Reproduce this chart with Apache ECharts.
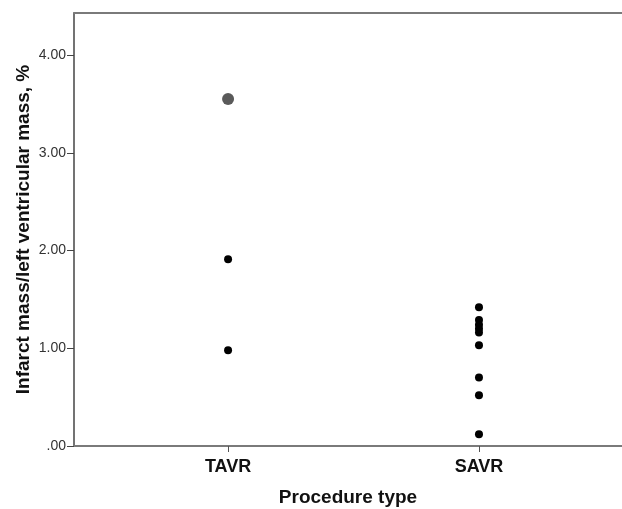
<!DOCTYPE html>
<html>
<head>
<meta charset="utf-8">
<script src="https://cdn.jsdelivr.net/npm/echarts@6/dist/echarts.min.js"></script>
<style>
html, body { margin: 0; padding: 0; background: #fff; }
#main { width: 622px; height: 509px; }
</style>
</head>
<body>
<div id="main"></div>
<script>
var categories = ['TAVR', 'SAVR'];
var yTicks = [0, 1, 2, 3, 4];
// infarct mass / LV mass (%) per patient
var tavrValues = [1.91, 0.98];
var tavrStacked = [3.55];   // drawn larger / grey (overlapping cases)
var savrValues = [1.42, 1.29, 1.24, 1.20, 1.16, 1.03, 0.70, 0.52, 0.12];

function toPoints(catIndex, vals) {
    return vals.map(function (v) { return [catIndex + 1, v]; });
}

var myChart = echarts.init(document.getElementById('main'));

var font = 'Liberation Sans, Arial, sans-serif';

var option = {
    animation: false,
    grid: { left: 74, right: 0, top: 13, bottom: 63, outerBoundsMode: 'none', containLabel: false },
    xAxis: [{
        type: 'value',
        min: 0.386,
        max: 2.57,
        name: 'Procedure type',
        nameLocation: 'middle',
        nameGap: 42,
        nameTextStyle: { fontFamily: font, fontSize: 19, fontWeight: 'bold', color: '#111' },
        splitLine: { show: false },
        axisLine: { lineStyle: { color: '#7a7a7a', width: 2 } },
        axisTick: { show: true, length: 6, customValues: [1, 2], lineStyle: { color: '#555' } },
        axisLabel: {
            customValues: [1, 2],
            margin: 12,
            fontFamily: font, fontSize: 18, fontWeight: 'bold', color: '#111',
            formatter: function (v) { return categories[Math.round(v) - 1] || ''; }
        }
    }, {
        type: 'value',
        position: 'top',
        min: 0.386,
        max: 2.57,
        splitLine: { show: false },
        axisLine: { show: true, lineStyle: { color: '#7a7a7a', width: 2 } },
        axisTick: { show: false },
        axisLabel: { show: false }
    }],
    yAxis: {
        type: 'value',
        min: 0,
        max: 4.43,
        interval: 1,
        name: 'Infarct mass/left ventricular mass, %',
        nameLocation: 'middle',
        nameGap: 41,
        nameMoveOverlap: false,
        nameTextStyle: { fontFamily: font, fontSize: 19, fontWeight: 'bold', color: '#111' },
        splitLine: { show: false },
        axisLine: { show: true, lineStyle: { color: '#444', width: 1.5 } },
        axisTick: { show: true, length: 7, lineStyle: { color: '#444' } },
        axisLabel: {
            showMaxLabel: false,
            margin: 8,
            fontFamily: font, fontSize: 14, color: '#333',
            formatter: function (v) {
                return yTicks.indexOf(v) === 0 ? '.00' : v.toFixed(2);
            }
        }
    },
    series: [{
        type: 'scatter',
        symbolSize: 8,
        itemStyle: { color: '#000', opacity: 1 },
        data: toPoints(0, tavrValues)
    }, {
        type: 'scatter',
        symbolSize: 12,
        itemStyle: { color: '#5a5a5a', opacity: 1 },
        data: toPoints(0, tavrStacked)
    }, {
        type: 'scatter',
        symbolSize: 8,
        itemStyle: { color: '#000', opacity: 1 },
        data: toPoints(1, savrValues)
    }]
};

myChart.setOption(option);
</script>
</body>
</html>
